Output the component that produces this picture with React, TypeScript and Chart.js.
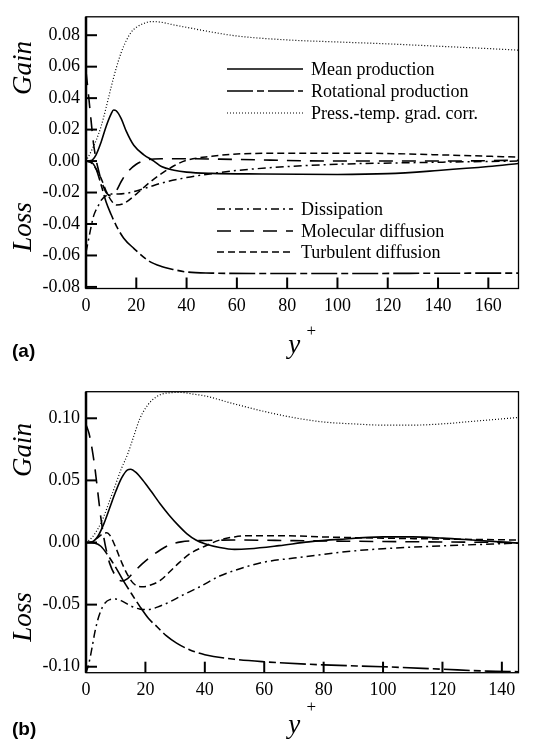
import React, { useEffect, useRef } from 'react';
import { Chart, registerables } from 'chart.js';

Chart.register(...registerables);

// ---------- Series names ----------
const SERIES_NAMES = [
  'Mean production',
  'Rotational production',
  'Press.-temp. grad. corr.',
  'Dissipation',
  'Molecular diffusion',
  'Turbulent diffusion',
];

// ---------- Panel (a) data: [y+, value] ----------
const A_MEAN: [number, number][] = [
  [0, 0], [2, 0.0003], [4, 0.004], [6, 0.012], [8, 0.022], [10, 0.03], [11, 0.0325], [12, 0.032],
  [14, 0.027], [16, 0.019], [19, 0.01], [23, 0.004], [27, 0.0], [30, -0.0035], [35, -0.0058],
  [40, -0.007], [50, -0.0078], [70, -0.0082], [100, -0.0085], [120, -0.008], [140, -0.006],
  [160, -0.0035], [172, -0.0015],
];
const A_ROT: [number, number][] = [
  [0, 0], [2, -0.0005], [4, -0.005], [6, -0.015], [8, -0.026], [10, -0.034], [12, -0.041],
  [15, -0.049], [19, -0.0555], [25, -0.0635], [30, -0.067], [35, -0.069], [40, -0.0705],
  [50, -0.0712], [70, -0.0715], [100, -0.0715], [140, -0.0713], [172, -0.0712],
];
const A_PRESS: [number, number][] = [
  [0, 0], [2, 0.006], [4, 0.013], [6, 0.022], [8, 0.034], [10, 0.047], [12, 0.059], [14, 0.069],
  [16, 0.0765], [18, 0.082], [20, 0.085], [23, 0.0875], [26, 0.0887], [30, 0.0882], [35, 0.0865],
  [40, 0.085], [50, 0.082], [60, 0.0795], [80, 0.077], [100, 0.0757], [120, 0.0745], [140, 0.073],
  [160, 0.0715], [172, 0.0705],
];
const A_DISS: [number, number][] = [
  [0, -0.058], [1, -0.05], [2, -0.042], [3, -0.035], [4, -0.031], [5, -0.028], [6, -0.025],
  [8, -0.022], [10, -0.021], [13, -0.021], [16, -0.0205], [20, -0.019], [25, -0.0165],
  [30, -0.014], [40, -0.0105], [50, -0.008], [60, -0.006], [80, -0.0035], [100, -0.002],
  [130, -0.001], [172, 0.0],
];
const A_MOL: [number, number][] = [
  [0, 0.057], [1, 0.042], [2, 0.026], [3, 0.011], [4, 0.001], [5, -0.006], [6, -0.012],
  [8, -0.02], [10, -0.022], [12, -0.019], [14, -0.013], [16, -0.008], [20, -0.002], [25, 0.001],
  [30, 0.0015], [40, 0.0015], [60, 0.001], [100, 0.0], [140, 0.0], [172, 0.0005],
];
const A_TURB: [number, number][] = [
  [0, 0], [2, -0.001], [4, -0.005], [6, -0.011], [8, -0.019], [10, -0.025], [12, -0.028],
  [15, -0.027], [20, -0.021], [25, -0.014], [30, -0.008], [35, -0.003], [40, 0.0005],
  [50, 0.003], [60, 0.0045], [80, 0.005], [100, 0.005], [120, 0.0048], [140, 0.004],
  [172, 0.0025],
];

// ---------- Panel (b) data: [y+, value] ----------
const B_MEAN: [number, number][] = [
  [0, 0], [2, 0.0005], [4, 0.005], [6, 0.015], [8, 0.028], [10, 0.041], [12, 0.052], [14, 0.0585],
  [15, 0.059], [17, 0.056], [19, 0.0505], [22, 0.041], [25, 0.031], [28, 0.022], [31, 0.014],
  [34, 0.007], [37, 0.002], [40, -0.001], [45, -0.004], [50, -0.0055], [55, -0.005],
  [65, -0.0025], [75, 0.0005], [85, 0.0025], [100, 0.0045], [110, 0.0045], [120, 0.0035],
  [130, 0.002], [145.6, -0.0005],
];
const B_ROT: [number, number][] = [
  [0, 0], [3, -0.0005], [5, -0.003], [7, -0.009], [10, -0.02], [12.5, -0.0305], [15, -0.04],
  [18, -0.051], [21, -0.061], [24, -0.068], [27, -0.075], [30.5, -0.081], [35, -0.0865],
  [40, -0.0903], [50, -0.094], [60, -0.096], [80, -0.0985], [100, -0.1], [120, -0.102],
  [135, -0.1035], [145.6, -0.104],
];
const B_PRESS: [number, number][] = [
  [0, 0], [2, 0.004], [4, 0.011], [6, 0.021], [8, 0.034], [10, 0.047], [12, 0.06], [14, 0.071],
  [16, 0.085], [18, 0.099], [20, 0.108], [22, 0.114], [25, 0.119], [28, 0.1205], [32, 0.1208],
  [36, 0.1195], [40, 0.118], [50, 0.1115], [60, 0.1055], [70, 0.1005], [80, 0.097], [90, 0.0955],
  [100, 0.0945], [110, 0.0945], [120, 0.0955], [130, 0.0975], [140, 0.0995], [145.6, 0.1007],
];
const B_DISS: [number, number][] = [
  [0, -0.105], [1, -0.097], [2, -0.085], [3, -0.072], [4, -0.062], [5, -0.055], [6, -0.05],
  [8, -0.046], [10, -0.0455], [12, -0.047], [15, -0.051], [18, -0.0535], [21, -0.054],
  [24, -0.052], [28, -0.048], [32, -0.043], [38, -0.036], [45, -0.027], [50, -0.0225],
  [60, -0.0158], [70, -0.0125], [80, -0.0095], [90, -0.0068], [100, -0.005], [120, -0.0027],
  [145.6, -0.0005],
];
const B_MOL: [number, number][] = [
  [0, 0.095], [1, 0.088], [2, 0.076], [3, 0.06], [4, 0.04], [5, 0.02], [6, 0.004], [7, -0.008],
  [8, -0.017], [10, -0.027], [12, -0.031], [14, -0.029], [16, -0.024], [19, -0.017],
  [22, -0.011], [25, -0.006], [28, -0.002], [32, 0.0005], [38, 0.0015], [50, 0.002],
  [70, 0.0015], [100, 0.0008], [145.6, 0.0],
];
const B_TURB: [number, number][] = [
  [0, 0], [2, 0.0005], [4, 0.004], [6, 0.0075], [7, 0.0078], [8, 0.006], [10, -0.004],
  [12, -0.016], [14, -0.026], [16, -0.033], [19, -0.0357], [22, -0.034], [25, -0.0305],
  [28, -0.024], [31, -0.017], [35, -0.009], [40, -0.003], [45, 0.002], [50, 0.0045],
  [55, 0.0055], [65, 0.0055], [80, 0.0045], [100, 0.0035], [120, 0.0028], [145.6, 0.002],
];

// ---------- Tick values ----------
const A_X_TICKS = [0, 20, 40, 60, 80, 100, 120, 140, 160];
const A_Y_TICKS = [-0.08, -0.06, -0.04, -0.02, 0, 0.02, 0.04, 0.06, 0.08];
const B_X_TICKS = [0, 20, 40, 60, 80, 100, 120, 140];
const B_Y_TICKS = [-0.1, -0.05, 0, 0.05, 0.1];

// ---------- Styles ----------
const DASHES: number[][] = [[], [26, 4, 7, 4], [1, 2], [8, 4, 2, 4], [14, 9], [7, 4]];
const WIDTHS = [1.6, 1.6, 1.2, 1.5, 1.6, 1.5];

const SERIF = "'Liberation Serif', 'Times New Roman', serif";
const SANS = "'Liberation Sans', Arial, sans-serif";

type PanelCfg = {
  series: [number, number][][];
  xTicks: number[];
  yTicks: number[];
  xMax: number;
  yMin: number;
  yMax: number;
  height: number;
  top: number;
  padTop: number;
  plotBottom: number;
  label: string;
  gainY: number;
  lossY: number;
  titleY: number;
  plusY: number;
  labelY: number;
  legend: boolean;
};

function makePlugin(cfg: PanelCfg) {
  return {
    id: 'decor',
    afterDraw(chart: any) {
      const { ctx, chartArea: ca, scales } = chart;
      ctx.save();
      ctx.strokeStyle = '#000';
      ctx.fillStyle = '#000';
      ctx.setLineDash([]);
      const line = (x1: number, y1: number, x2: number, y2: number) => {
        ctx.beginPath();
        ctx.moveTo(x1, y1);
        ctx.lineTo(x2, y2);
        ctx.stroke();
      };
      ctx.lineWidth = 1.3;
      ctx.strokeRect(ca.left, ca.top, ca.right - ca.left, ca.bottom - ca.top);
      ctx.lineWidth = 2.5;
      line(ca.left, ca.top, ca.left, ca.bottom);
      ctx.lineWidth = 2;
      scales.y.ticks.forEach((t: any) => {
        const py = scales.y.getPixelForValue(t.value);
        line(ca.left, py, ca.left + 11, py);
      });
      scales.x.ticks.forEach((t: any) => {
        const px = scales.x.getPixelForValue(t.value);
        line(px, ca.bottom, px, ca.bottom - 11);
      });

      // Axis side labels
      ctx.font = `italic 27px ${SERIF}`;
      ctx.textAlign = 'center';
      ctx.textBaseline = 'middle';
      const vert = (txt: string, x: number, y: number) => {
        ctx.save();
        ctx.translate(x, y);
        ctx.rotate(-Math.PI / 2);
        ctx.fillText(txt, 0, 0);
        ctx.restore();
      };
      vert('Gain', 24, cfg.gainY);
      vert('Loss', 24, cfg.lossY);

      // x title y+
      const cx = (ca.left + ca.right) / 2 - 8;
      ctx.font = `italic 27px ${SERIF}`;
      ctx.fillText('y', cx, cfg.titleY);
      ctx.font = `17px ${SERIF}`;
      ctx.fillText('+', cx + 17, cfg.plusY);

      // panel label
      ctx.font = `bold 19px ${SANS}`;
      ctx.textAlign = 'left';
      ctx.fillText(cfg.label, 12, cfg.labelY);

      // legend
      if (cfg.legend) {
        const ds = chart.data.datasets;
        const groups = [
          { idx: [0, 1, 2], ys: [69, 91, 113], x1: 227, x2: 303, tx: 311 },
          { idx: [3, 4, 5], ys: [209, 231, 252], x1: 217, x2: 293, tx: 301 },
        ];
        ctx.font = `18px ${SERIF}`;
        ctx.textAlign = 'left';
        ctx.textBaseline = 'middle';
        groups.forEach((g) => {
          g.idx.forEach((i, k) => {
            const y = g.ys[k];
            ctx.save();
            ctx.lineWidth = ds[i].borderWidth;
            ctx.setLineDash(ds[i].borderDash);
            line(g.x1, y, g.x2, y);
            ctx.restore();
            ctx.fillText(ds[i].label, g.tx, y + 1);
          });
        });
      }
      ctx.restore();
    },
  };
}

function Panel({ cfg }: { cfg: PanelCfg }) {
  const ref = useRef<HTMLCanvasElement>(null);
  useEffect(() => {
    if (!ref.current) return;
    const plotRight = 518.5;
    const chart = new Chart(ref.current, {
      type: 'line',
      data: {
        datasets: cfg.series.map((s, i) => ({
          label: SERIES_NAMES[i],
          data: s.map(([x, y]) => ({ x, y })),
          borderColor: '#000',
          borderWidth: WIDTHS[i],
          borderDash: DASHES[i],
          pointRadius: 0,
          fill: false,
          cubicInterpolationMode: 'monotone' as const,
        })),
      },
      options: {
        animation: false,
        responsive: false,
        devicePixelRatio: 1,
        events: [],
        layout: { padding: { top: cfg.padTop, right: 547 - plotRight, left: 0, bottom: 0 } },
        plugins: { legend: { display: false }, tooltip: { enabled: false } },
        scales: {
          x: {
            type: 'linear',
            min: 0,
            max: cfg.xMax,
            grid: { display: false, drawTicks: false },
            border: { display: false },
            afterBuildTicks: (scale: any) => {
              scale.ticks = cfg.xTicks.map((v) => ({ value: v }));
            },
            afterFit: (scale: any) => {
              scale.height = cfg.height - cfg.plotBottom;
            },
            ticks: {
              color: '#000',
              padding: 7,
              maxRotation: 0,
              autoSkip: false,
              font: { family: SERIF, size: 18 },
              callback: (v: any) => String(v),
            },
          },
          y: {
            type: 'linear',
            min: cfg.yMin,
            max: cfg.yMax,
            grid: { display: false, drawTicks: false },
            border: { display: false },
            afterBuildTicks: (scale: any) => {
              scale.ticks = cfg.yTicks.map((v) => ({ value: v }));
            },
            afterFit: (scale: any) => {
              scale.width = 86;
            },
            ticks: {
              color: '#000',
              padding: 6,
              autoSkip: false,
              font: { family: SERIF, size: 18 },
              callback: (v: any) => Number(v).toFixed(2),
            },
          },
        },
      },
      plugins: [makePlugin(cfg)],
    } as any);
    return () => chart.destroy();
  }, [cfg]);
  return (
    <canvas
      ref={ref}
      width={547}
      height={cfg.height}
      style={{ position: 'absolute', left: 0, top: cfg.top, width: 547, height: cfg.height }}
    />
  );
}

const PANEL_A: PanelCfg = {
  series: [A_MEAN, A_ROT, A_PRESS, A_DISS, A_MOL, A_TURB],
  xTicks: A_X_TICKS,
  yTicks: A_Y_TICKS,
  xMax: 172,
  yMin: -0.081,
  yMax: 0.0917,
  height: 370,
  top: 0,
  padTop: 7,
  plotBottom: 288.5,
  label: '(a)',
  gainY: 68,
  lossY: 227,
  titleY: 346,
  plusY: 332,
  labelY: 352,
  legend: true,
};

const PANEL_B: PanelCfg = {
  series: [B_MEAN, B_ROT, B_PRESS, B_DISS, B_MOL, B_TURB],
  xTicks: B_X_TICKS,
  yTicks: B_Y_TICKS,
  xMax: 145.6,
  yMin: -0.1048,
  yMax: 0.1214,
  height: 375,
  top: 370,
  padTop: 21.7,
  plotBottom: 302.7,
  label: '(b)',
  gainY: 80,
  lossY: 247,
  titleY: 356,
  plusY: 338,
  labelY: 360,
  legend: false,
};

export default function App() {
  return (
    <div style={{ position: 'absolute', left: 0, top: 0, width: 547, height: 745, background: '#fff' }}>
      <Panel cfg={PANEL_A} />
      <Panel cfg={PANEL_B} />
    </div>
  );
}
